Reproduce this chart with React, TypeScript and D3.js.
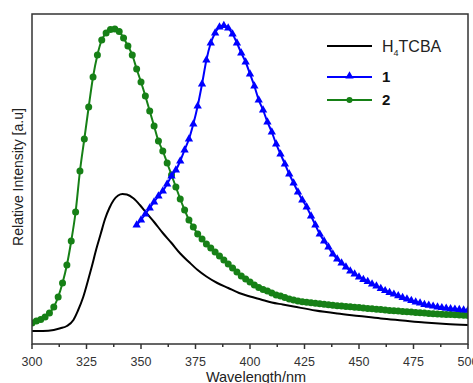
import React from "react";
import * as d3 from "d3";

const W = 473;
const H = 383;

// Black: H4TCBA (no markers)
const blackNm = [300,305,310,313,316,319,321,323.5,325.5,327.5,329.5,331.5,333.5,335.5,337.5,339.5,341.5,343.5,346.5,349.5,352.5,356,360,364,368,372,376,380,385,390,395,400,405,410,415,420,430,440,450,460,470,480,490,500];
const blackV = [13,13,14,15.7,18,24,33,47,62,78,95,110,125,136,144,148.5,150,149.5,145.7,139,131,122,111,101,90.5,82,74,67.5,61,56,51,47.5,44.5,41.5,39.5,37.5,33.5,30.5,28,25.5,23.5,21.5,20,19];

// Green: compound 2, 300..500 nm every 2 nm
const greenStart = 300;
const greenStep = 2;
const greenV = [21,23,24.5,27,31,37,47,61,79,103,132,173,205,237,267,289,304,311,314.5,315,312.5,306,298,289,275,262,248,233,218,203,193,181,169,157,145,134,124,117,110,105,100,96,92,88,84,80,76,72,68,65,62,59,56.5,54.5,53,51,49,48,46.5,45,44,43,42.3,41.7,41.2,40.7,40.3,39.8,39.3,38.8,38.3,37.9,37.5,37.2,36.8,36.4,36,35.6,35.2,34.8,34.4,34,33.6,33.3,33,32.6,32.3,32,31.6,31.2,30.9,30.6,30.3,30,29.8,29.6,29.4,29.2,29,28.8,28.6];

// Blue: compound 1, 348..500 nm every 2 nm
const blueStart = 348;
const blueStep = 2;
const blueV = [119,124,130,136,142,148,153,160,168,174,183,194,205,220,238,260,284,301,311,317,318.5,316,310,301,291,282,270,258,244,234,222,212,200,190,180,170,161,152,144,137,128,119,110,103,97,90,85,81,77,73,70,67,64.5,62.5,60,58,55.5,53.3,51.5,49.8,48.2,46.5,45,43.5,42,41,39.5,38.6,37.8,37,36.3,35.7,35.2,34.8,34.4,34,33.8];

const xTicks = [300,325,350,375,400,425,450,475,500];
const xMinor = [312.5,337.5,362.5,387.5,412.5,437.5,462.5,487.5];

const seriesNames = ["H4TCBA", "1", "2"];

const BLACK = "#000000";
const BLUE = "#0000ff";
const GREEN = "#168016";
const AXIS = "#333333";

export default function App() {
  const left = 32, right = 468, top = 14, bottom = 344;
  const x = d3.scaleLinear().domain([300, 500]).range([left, right]);
  const y = d3.scaleLinear().domain([0, 330]).range([bottom, top]);

  const blackPts: [number, number][] = blackNm.map((n, i) => [n, blackV[i]]);
  const greenPts: [number, number][] = greenV.map((v, i) => [greenStart + i * greenStep, v]);
  const bluePts: [number, number][] = blueV.map((v, i) => [blueStart + i * blueStep, v]);

  const line = d3.line<[number, number]>()
    .x(d => x(d[0]))
    .y(d => y(d[1]))
    .curve(d3.curveMonotoneX);

  const tri = d3.symbol().type(d3.symbolTriangle).size(30)()!;

  const legX1 = 327, legX2 = 372, legTextX = 382;
  const legY = [46, 77, 100];

  return (
    <svg width={W} height={H} style={{ position: "absolute", left: 0, top: 0, background: "#fff" }}
      fontFamily="Arial, 'Liberation Sans', sans-serif">
      <rect x={0} y={0} width={W} height={H} fill="#fff" />
      <defs>
        <clipPath id="plotclip">
          <rect x={left} y={top} width={right - left} height={bottom - top} />
        </clipPath>
      </defs>

      <g clipPath="url(#plotclip)">
        <path d={line(blackPts)!} fill="none" stroke={BLACK} strokeWidth={2} />
        <path d={line(greenPts)!} fill="none" stroke={GREEN} strokeWidth={2} />
        {greenPts.map((p, i) => (
          <circle key={"g" + i} cx={x(p[0])} cy={y(p[1])} r={3.5} fill={GREEN} />
        ))}
        <path d={line(bluePts)!} fill="none" stroke={BLUE} strokeWidth={2} />
        {bluePts.map((p, i) => (
          <path key={"b" + i} d={tri} transform={`translate(${x(p[0])},${y(p[1])})`} fill={BLUE} />
        ))}
      </g>

      <rect x={left} y={top} width={right - left} height={bottom - top} fill="none" stroke={AXIS} strokeWidth={1.5} />

      {xTicks.map(t => (
        <g key={"t" + t}>
          <line x1={x(t)} x2={x(t)} y1={bottom} y2={bottom + 5} stroke={AXIS} strokeWidth={1.5} />
          <text x={x(t)} y={366} fontSize={12.5} fill="#333" textAnchor="middle">{t}</text>
        </g>
      ))}
      {xMinor.map(t => (
        <line key={"m" + t} x1={x(t)} x2={x(t)} y1={bottom} y2={bottom + 3} stroke={AXIS} strokeWidth={1.5} />
      ))}

      <text x={256} y={382} fontSize={14.5} fill="#222" textAnchor="middle">Wavelength/nm</text>
      <text transform={`translate(23,177) rotate(-90)`} fontSize={14} fill="#222" textAnchor="middle">Relative Intensity [a.u]</text>

      <line x1={legX1} x2={legX2} y1={legY[0]} y2={legY[0]} stroke={BLACK} strokeWidth={2} />
      <text x={legTextX} y={legY[0] + 6} fontSize={16} fill="#222">
        H<tspan fontSize={9} dy={4}>4</tspan><tspan dy={-4}>TCBA</tspan>
      </text>
      <line x1={legX1} x2={legX2} y1={legY[1]} y2={legY[1]} stroke={BLUE} strokeWidth={2} />
      <path d={tri} transform={`translate(${(legX1 + legX2) / 2},${legY[1] - 1})`} fill={BLUE} />
      <text x={legTextX} y={legY[1] + 5} fontSize={15} fontWeight="bold" fill="#111">{seriesNames[1]}</text>
      <line x1={legX1} x2={legX2} y1={legY[2]} y2={legY[2]} stroke={GREEN} strokeWidth={2} />
      <circle cx={(legX1 + legX2) / 2} cy={legY[2]} r={3} fill={GREEN} />
      <text x={legTextX} y={legY[2] + 5} fontSize={15} fontWeight="bold" fill="#111">{seriesNames[2]}</text>
    </svg>
  );
}
